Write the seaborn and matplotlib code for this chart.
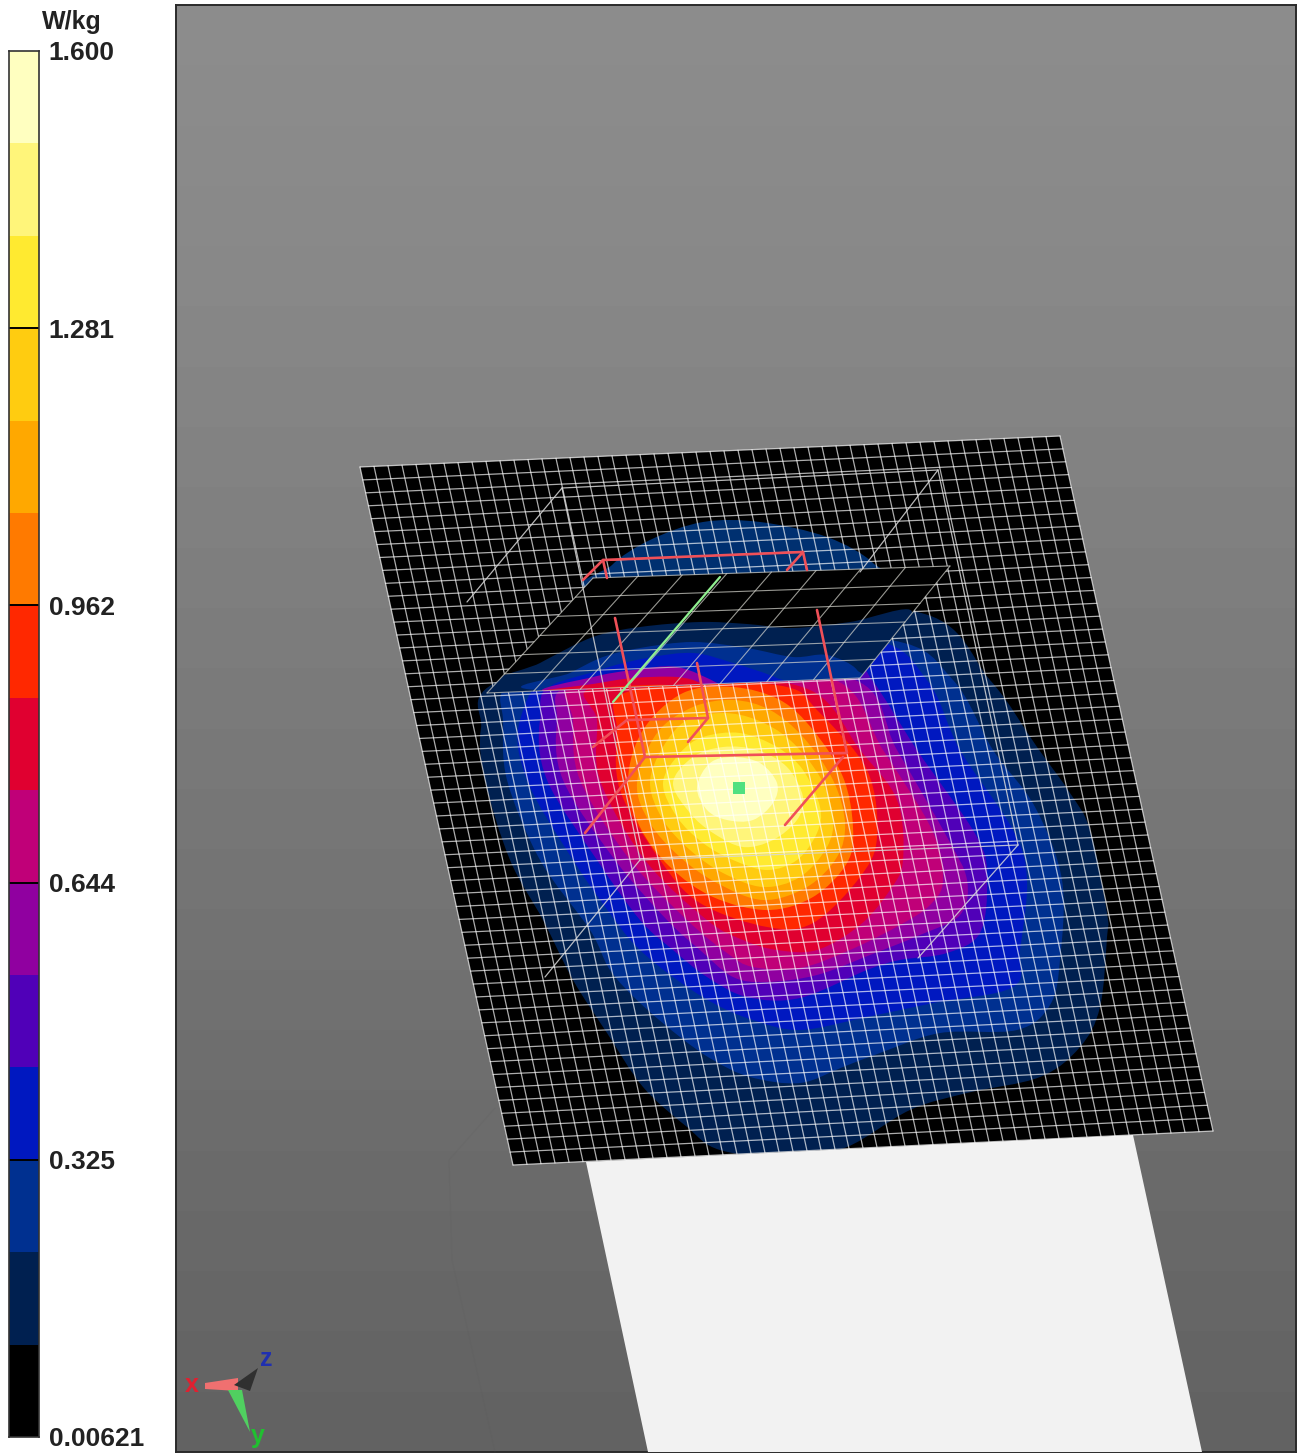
import numpy as np
import matplotlib
matplotlib.use("Agg")
import matplotlib.pyplot as plt
from matplotlib.colors import ListedColormap
from matplotlib.path import Path
from matplotlib.patches import PathPatch, Polygon
import seaborn as sns

# SAR colour scale, top band first
band_values = [1.547, 1.441, 1.334, 1.228, 1.122, 1.016, 0.909, 0.803,
               0.697, 0.591, 0.484, 0.378, 0.272, 0.166, 0.059]
band_colors = ['#ffffc0', '#fff57a', '#ffea30', '#ffcc10', '#ffa800',
               '#ff7a00', '#ff2800', '#e00030', '#c00078', '#9000a0',
               '#5000b8', '#0018c0', '#003090', '#002050', '#000000']
tick_rows = [0, 3, 6, 9, 12, 15]
tick_labels = ['1.600', '1.281', '0.962', '0.644', '0.325', '0.00621']
unit_label = 'W/kg'

# background shading of the viewport, top to bottom
background_grey = [140, 139, 138, 137, 136, 134, 132, 130, 128, 126, 124, 122,
                   120, 118, 116, 114, 112, 110, 108, 106, 104, 102, 100, 98]

# everything below in pixels
plate = [(360, 467), (1060, 436), (1213, 1131), (513, 1165)]
plate_cols, plate_rows = 50, 54
phantom = [(586, 1162), (1133, 1135), (1202, 1452), (648, 1452)]
slab = [(593, 578), (950, 566), (860, 678), (487, 693)]
slab_cols, slab_rows = 8, 6

# contour outlines, one per SAR band, outermost first
c_navy = [(500, 680), (481, 728), (485, 780), (510, 860), (543, 920), (573, 980), (607, 1033),
          (643, 1087), (687, 1127), (720, 1150), (790, 1158), (847, 1147), (910, 1110), (967, 1093),
          (1040, 1077), (1080, 1047), (1100, 1007), (1107, 937), (1107, 913), (1090, 830),
          (1070, 793), (1037, 747), (990, 680), (917, 612), (700, 620)]
c_blue1 = [(503, 690), (503, 720), (507, 780), (540, 860), (590, 930), (610, 970), (640, 1003),
           (680, 1037), (713, 1060), (750, 1077), (800, 1083), (843, 1067), (880, 1053), (940, 1033),
           (1017, 1030), (1050, 1005), (1060, 960), (1062, 880), (1035, 807), (993, 750), (953, 680),
           (890, 640), (700, 640), (540, 660)]
c_blue = [(520, 720), (527, 780), (573, 860), (617, 923), (640, 950), (673, 977), (713, 1003),
          (753, 1020), (800, 1030), (867, 1017), (933, 1003), (1013, 987), (1020, 950), (1027, 880),
          (1013, 830), (960, 750), (927, 680), (870, 640), (700, 650), (560, 670)]
c_indigo = [(540, 720), (547, 780), (597, 860), (640, 920), (673, 950), (707, 977), (747, 997),
            (800, 998), (867, 970), (900, 960), (947, 953), (980, 933), (987, 880), (977, 837),
            (917, 750), (872, 680), (840, 650), (700, 660), (560, 680)]
c_purple = [(557, 720), (563, 780), (615, 860), (667, 920), (700, 950), (733, 977), (767, 982),
            (817, 975), (870, 955), (920, 935), (960, 915), (967, 880), (947, 837), (897, 750),
            (855, 680), (700, 670), (570, 685)]
c_magenta = [(573, 720), (580, 780), (630, 860), (687, 920), (727, 953), (753, 967), (800, 968),
             (850, 950), (900, 925), (930, 905), (943, 880), (932, 830), (883, 750), (835, 680),
             (700, 675), (575, 685)]
c_crimson = [(597, 720), (600, 780), (645, 860), (707, 920), (743, 940), (777, 950), (817, 950),
             (860, 925), (890, 890), (903, 860), (897, 800), (860, 750), (810, 690), (700, 678),
             (590, 688)]
c_red = [(617, 730), (620, 790), (660, 860), (700, 903), (767, 927), (813, 923), (860, 877),
         (877, 837), (867, 770), (817, 710), (787, 687), (700, 682), (620, 695)]
c_orange = [(628, 780), (640, 827), (670, 867), (713, 897), (767, 910), (813, 897), (847, 863),
            (853, 827), (843, 777), (813, 730), (780, 700), (733, 687), (683, 693), (643, 730)]
c_amber = [(637, 783), (650, 823), (680, 857), (717, 883), (763, 900), (807, 887), (837, 857),
           (845, 823), (833, 780), (803, 737), (770, 710), (733, 700), (693, 707), (657, 733)]
c_gold = [(650, 783), (663, 820), (690, 850), (723, 873), (763, 887), (800, 877), (827, 847),
          (833, 817), (820, 777), (790, 740), (757, 720), (723, 713), (687, 720), (663, 747)]
c_yellow = [(663, 783), (677, 817), (703, 843), (733, 860), (767, 870), (797, 860), (817, 833),
            (820, 807), (803, 770), (777, 747), (740, 733), (703, 737), (680, 753)]
c_light = [(673, 783), (690, 813), (713, 833), (743, 847), (773, 840), (797, 820), (803, 797),
           (787, 767), (757, 750), (723, 747), (693, 757)]
c_pale = [(697, 787), (707, 810), (727, 820), (753, 820), (773, 803), (777, 783), (760, 763),
          (733, 757), (710, 763)]
field_contours = [c_navy, c_blue1, c_blue, c_indigo, c_purple, c_magenta, c_crimson, c_red,
                  c_orange, c_amber, c_gold, c_yellow, c_light, c_pale]
top_lobe = [(600, 590), (612, 565), (650, 540), (703, 522), (760, 522), (827, 537), (873, 563), (880, 590)]

# same field seen on the tilted slab
s_navy = [(487, 693), (540, 663), (593, 637), (640, 627), (700, 622), (747, 624), (793, 628),
          (850, 622), (912, 612), (860, 678)]
s_blue1 = [(537, 690), (570, 673), (603, 657), (640, 648), (693, 642), (747, 648), (793, 657),
           (827, 655), (857, 670), (850, 690)]
s_blue = [(560, 690), (600, 670), (647, 658), (693, 653), (733, 663), (777, 678), (790, 690)]
s_purple = [(547, 692), (593, 677), (633, 670), (677, 667), (717, 683), (725, 692)]
s_crimson = [(547, 692), (593, 684), (633, 678), (677, 677), (700, 683), (705, 692)]
s_red = [(580, 692), (610, 687), (667, 685), (675, 692)]
slab_bands = [(s_navy, '#002050'), (s_blue1, '#003090'), (s_blue, '#0018c0'),
              (s_purple, '#9000a0'), (s_crimson, '#e00030'), (s_red, '#ff2800')]

wire_box = [[(562, 488), (938, 470)], [(562, 488), (467, 602)], [(938, 470), (1018, 845)],
            [(562, 488), (640, 860)], [(640, 860), (1018, 845)], [(640, 860), (545, 977)],
            [(1018, 845), (918, 958)], [(938, 470), (860, 572)]]
antenna = [[(583, 580), (603, 560), (803, 552), (807, 570)], [(603, 560), (607, 578)], [(803, 552), (787, 570)],
           [(615, 618), (645, 757), (847, 753), (817, 610)], [(697, 663), (708, 718), (627, 720), (593, 747)],
           [(708, 718), (688, 742)], [(645, 757), (585, 833)], [(843, 757), (785, 825)]]
feed_line = [(720, 577), (613, 702)]
peak_marker = (739, 788)
ghost_edges = [(495, 1108), (449, 1160), (452, 1260), (495, 1452)]

triad_x = [(205, 1383), (238, 1378), (238, 1391), (205, 1389)]
triad_y = [(228, 1390), (242, 1390), (250, 1432)]
triad_z = [(234, 1385), (258, 1368), (250, 1391)]


def smooth_path(pts):
    # closed catmull-rom outline turned into bezier pieces
    p = np.array(pts, dtype=float)
    n = len(p)
    verts = [p[0]]
    codes = [Path.MOVETO]
    for i in range(n):
        p0, p1, p2, p3 = p[i - 1], p[i], p[(i + 1) % n], p[(i + 2) % n]
        verts += [p1 + (p2 - p0) / 6, p2 - (p3 - p1) / 6, p2]
        codes += [Path.CURVE4] * 3
    return Path(verts, codes)


def grid_lines(ax, corners, cols, rows, **kw):
    tl, tr, br, bl = [np.array(c, dtype=float) for c in corners]
    for i in range(cols + 1):
        t = i / cols
        a, b = tl + (tr - tl) * t, bl + (br - bl) * t
        ax.plot([a[0], b[0]], [a[1], b[1]], **kw)
    for j in range(rows + 1):
        t = j / rows
        a, b = tl + (bl - tl) * t, tr + (br - tr) * t
        ax.plot([a[0], b[0]], [a[1], b[1]], **kw)


sns.set_theme(style="white")
plt.rcParams['font.family'] = ['Liberation Sans', 'DejaVu Sans']
W, H = 1297, 1454
fig = plt.figure(figsize=(W / 100, H / 100), dpi=100, facecolor='white')


def px_axes(x0, y0, x1, y1, **kw):
    return fig.add_axes([x0 / W, 1 - y1 / H, (x1 - x0) / W, (y1 - y0) / H], **kw)


# colour bar
cax = px_axes(9, 51, 39, 1437)
bar = np.array(band_values).reshape(-1, 1)
sns.heatmap(bar, ax=cax, cmap=ListedColormap(band_colors[::-1]), vmin=0.00621, vmax=1.6,
            cbar=False, xticklabels=False)
cax.hlines(tick_rows[1:-1], 0, 1, color='black', lw=1.4)
cax.yaxis.tick_right()
cax.set_yticks(tick_rows)
cax.set_yticklabels(tick_labels, rotation=0, fontsize=19, fontweight='bold', color='#222222')
cax.tick_params(axis='y', length=0, pad=7)
for s in cax.spines.values():
    s.set_visible(True)
    s.set_color('#333333')
    s.set_linewidth(1.2)
fig.text(72 / W, 1 - 22 / H, unit_label, ha='center', va='center', fontsize=18, fontweight='bold', color='#222222')

# viewport background
bg = px_axes(176, 5, 1296, 1452)
grey = np.array(background_grey).reshape(-1, 1)
sns.heatmap(grey, ax=bg, cmap='gray', vmin=0, vmax=255, cbar=False, xticklabels=False, yticklabels=False)
for s in bg.spines.values():
    s.set_visible(True)
    s.set_color('#2a2a2a')
    s.set_linewidth(1.4)

# 3d scene drawn in picture coordinates
ax = fig.add_axes([0, 0, 1, 1], facecolor='none')
ax.set_xlim(0, W)
ax.set_ylim(H, 0)
ax.axis('off')

xs, ys = zip(*ghost_edges)
ax.plot(xs, ys, color='#585858', lw=1, alpha=0.12, zorder=1)
ax.add_patch(Polygon(phantom, closed=True, fc='#f2f2f2', ec='none', zorder=1))
plate_patch = Polygon(plate, closed=True, fc='black', ec='none', zorder=2)
ax.add_patch(plate_patch)

field_colors = band_colors[::-1][1:]
for pts, col in zip(field_contours, field_colors):
    patch = PathPatch(smooth_path(pts), fc=col, ec='none', zorder=3)
    ax.add_patch(patch)
    patch.set_clip_path(plate_patch)
lobe = PathPatch(smooth_path(top_lobe), fc='#003070', ec='none', zorder=3)
ax.add_patch(lobe)

grid_lines(ax, plate, plate_cols, plate_rows, color='white', lw=0.9, alpha=0.68, zorder=4)

# black slab in front of the mesh
slab_patch = Polygon(slab, closed=True, fc='black', ec='none', zorder=5)
ax.add_patch(slab_patch)
for pts, col in slab_bands:
    patch = PathPatch(smooth_path(pts), fc=col, ec='none', zorder=5.5)
    ax.add_patch(patch)
    patch.set_clip_path(slab_patch)
grid_lines(ax, slab, slab_cols, slab_rows, color='#d8d8d0', lw=0.8, alpha=0.7, zorder=6)

for seg in wire_box:
    xs, ys = zip(*seg)
    ax.plot(xs, ys, color='#d8d8d8', lw=0.9, alpha=0.85, zorder=6)
for seg in antenna:
    xs, ys = zip(*seg)
    ax.plot(xs, ys, color='#f05058', lw=1.9, solid_capstyle='round', zorder=7)
xs, ys = zip(*feed_line)
ax.plot(xs, ys, color='#90f090', lw=1.6, zorder=7)
ax.scatter([peak_marker[0]], [peak_marker[1]], marker='s', s=75, color='#50e080', linewidths=0, zorder=8)

# axis triad
ax.add_patch(Polygon(triad_x, closed=True, fc='#f07070', ec='none', zorder=8))
ax.add_patch(Polygon(triad_y, closed=True, fc='#50d060', ec='none', zorder=8))
ax.add_patch(Polygon(triad_z, closed=True, fc='#303030', ec='none', zorder=9))
ax.text(192, 1385, 'x', color='#e02030', fontsize=18, fontweight='bold', ha='center', va='center', zorder=9)
ax.text(266, 1359, 'z', color='#2030b0', fontsize=18, fontweight='bold', ha='center', va='center', zorder=9)
ax.text(258, 1436, 'y', color='#20c030', fontsize=18, fontweight='bold', ha='center', va='center', zorder=9)

fig.savefig('out.png', dpi=100)
